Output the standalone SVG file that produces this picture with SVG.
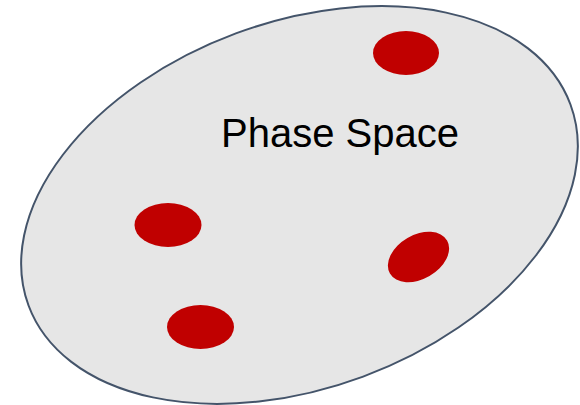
<svg xmlns="http://www.w3.org/2000/svg" width="580" height="405" viewBox="0 0 580 405">
<style>
.space{fill:#e6e6e6;stroke:#44546a;stroke-width:2}
.dot{fill:#c00000}
.lbl{font-family:"Liberation Sans",Arial,sans-serif;font-size:40px;fill:#000}
</style>
<rect width="580" height="405" fill="#ffffff"/>
<g id="phase-space">
<ellipse class="space" cx="299.5" cy="205" rx="289" ry="183" transform="rotate(-20.35 299.5 205)"/>
<text class="lbl" x="221" y="147">Phase Space</text>
</g>
<g id="point1"><ellipse class="dot" cx="406" cy="53" rx="33" ry="22"/></g>
<g id="point2"><ellipse class="dot" cx="168" cy="225" rx="33.5" ry="22"/></g>
<g id="point3"><ellipse class="dot" cx="418.5" cy="257" rx="33" ry="22" transform="rotate(-30 418.5 257)"/></g>
<g id="point4"><ellipse class="dot" cx="200.5" cy="327" rx="33.5" ry="22"/></g>
<g id="connectors"></g>
</svg>
